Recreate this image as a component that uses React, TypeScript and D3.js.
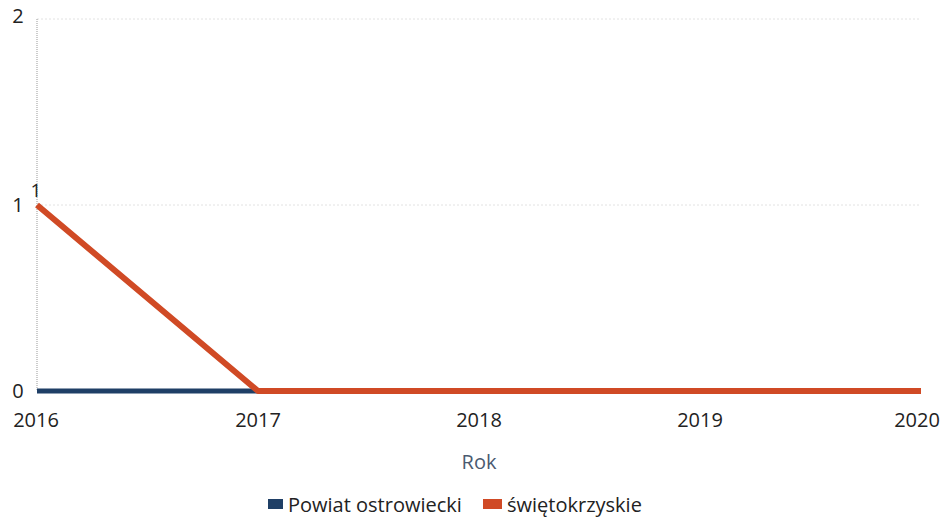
import React from "react";
import * as d3 from "d3";

const years = [2016, 2017, 2018, 2019, 2020];
const powiatValues = [0, 0, 0, 0, 0];
const swietokrzyskieValues = [1, 0, 0, 0, 0];
const yTicks = [0, 1, 2];
const seriesNames = ["Powiat ostrowiecki", "świętokrzyskie"];
const seriesColors = ["#1f3f66", "#d04a25"];

const W = 949;
const H = 522;
const font = "'Open Sans', 'Noto Sans', sans-serif";

export default function App() {
  const x = d3.scaleLinear().domain([2016, 2020]).range([37, 921]);
  const y = d3.scaleLinear().domain([0, 2]).range([391, 19]);
  const line = d3
    .line<number>()
    .x((_, i) => x(years[i]))
    .y((d) => y(d));

  return (
    <svg
      width={W}
      height={H}
      style={{ position: "absolute", left: 0, top: 0, background: "#fff" }}
    >
      {yTicks
        .filter((t) => t > 0)
        .map((t) => (
          <line
            key={t}
            x1={x(2016)}
            x2={x(2020)}
            y1={y(t)}
            y2={y(t)}
            stroke="#e2e2e2"
            strokeWidth={1}
            strokeDasharray="2,2"
          />
        ))}
      <line
        x1={x(2016)}
        x2={x(2016)}
        y1={y(2)}
        y2={y(0)}
        stroke="#999"
        strokeWidth={1}
        strokeDasharray="1,1"
      />
      {yTicks.map((t) => (
        <text
          key={t}
          x={t === 1 ? 18 : 18}
          y={y(t) + (t === 2 ? 4 : 7)}
          textAnchor="middle"
          fontFamily={font}
          fontSize={20}
          fill="#222"
        >
          {t}
        </text>
      ))}
      {years.map((yr) => (
        <text
          key={yr}
          x={x(yr) - (yr === 2016 ? 1 : yr === 2020 ? 4 : 0)}
          y={427}
          textAnchor="middle"
          fontFamily={font}
          fontSize={20}
          fill="#222"
        >
          {yr}
        </text>
      ))}
      <text
        x={479}
        y={469}
        textAnchor="middle"
        fontFamily={font}
        fontSize={20}
        fill="#4a5a70"
      >
        Rok
      </text>
      <path
        d={line(powiatValues) || ""}
        fill="none"
        stroke={seriesColors[0]}
        strokeWidth={5}
      />
      <path
        d={line(swietokrzyskieValues) || ""}
        fill="none"
        stroke={seriesColors[1]}
        strokeWidth={6}
        strokeLinejoin="round"
      />
      <text
        x={x(2016) - 1}
        y={y(swietokrzyskieValues[0]) - 8}
        textAnchor="middle"
        fontFamily={font}
        fontSize={19}
        fill="#222"
      >
        {swietokrzyskieValues[0]}
      </text>
      {seriesNames.map((n, i) => {
        const lx = i === 0 ? 268 : 483;
        const rw = i === 0 ? 15 : 19;
        return (
          <g key={n}>
            <rect x={lx} y={499} width={rw} height={10} fill={seriesColors[i]} />
            <text
              x={lx + rw + 5}
              y={512}
              fontFamily={font}
              fontSize={20}
              fill="#222"
            >
              {n}
            </text>
          </g>
        );
      })}
    </svg>
  );
}
